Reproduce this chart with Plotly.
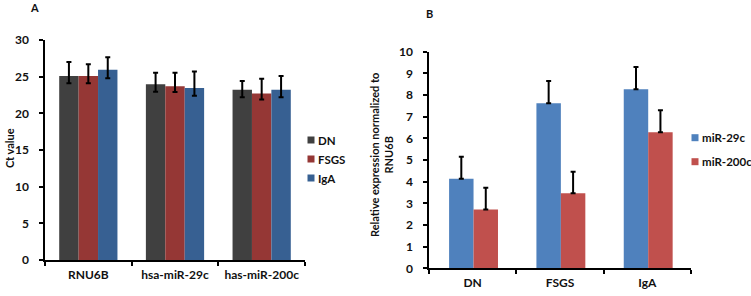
import plotly.graph_objects as go

# ---- Panel A data ----
genes = ["RNU6B", "hsa-miR-29c", "has-miR-200c"]
groups_a = ["DN", "FSGS", "IgA"]
ct_dn = [25.1, 23.95, 23.2]
ct_fsgs = [25.1, 23.7, 22.7]
ct_iga = [25.95, 23.45, 23.2]
ct_dn_up = [1.9, 1.6, 1.2]
ct_dn_down = [1.0, 1.0, 1.0]
ct_fsgs_up = [1.6, 1.85, 2.0]
ct_fsgs_down = [1.0, 0.8, 0.8]
ct_iga_up = [1.7, 2.25, 1.9]
ct_iga_down = [1.15, 1.05, 1.0]

# ---- Panel B data ----
diseases = ["DN", "FSGS", "IgA"]
groups_b = ["miR-29c", "miR-200c"]
rel_29c = [4.13, 7.62, 8.27]
rel_200c = [2.72, 3.46, 6.28]
rel_29c_err = [1.02, 1.03, 1.02]
rel_200c_err = [1.0, 1.0, 1.02]

col_a = ["#404040", "#953735", "#376092"]
col_b = ["#4F81BD", "#C0504D"]

W, H = 751, 296
FONT = "Lato"
FS = 12


def fx(px):
    return px / W


def fy(py):
    return 1 - py / H


fig = go.Figure()

vals_a = [ct_dn, ct_fsgs, ct_iga]
ups_a = [ct_dn_up, ct_fsgs_up, ct_iga_up]
downs_a = [ct_dn_down, ct_fsgs_down, ct_iga_down]
offs_a = [-0.336, -0.112, 0.112]
for i, name in enumerate(groups_a):
    fig.add_trace(go.Bar(
        x=genes, y=vals_a[i], name=name, xaxis="x", yaxis="y",
        marker=dict(color=col_a[i], line=dict(width=0)),
        width=0.224, offset=offs_a[i], showlegend=False,
        error_y=dict(type="data", symmetric=False, array=ups_a[i],
                     arrayminus=downs_a[i], color="black", thickness=2, width=2.5),
    ))

vals_b = [rel_29c, rel_200c]
errs_b = [rel_29c_err, rel_200c_err]
offs_b = [-0.27, 0.01]
for i, name in enumerate(groups_b):
    fig.add_trace(go.Bar(
        x=diseases, y=vals_b[i], name=name, xaxis="x2", yaxis="y2",
        marker=dict(color=col_b[i], line=dict(width=0)),
        width=0.28, offset=offs_b[i], showlegend=False,
        error_y=dict(type="data", symmetric=False, array=errs_b[i],
                     arrayminus=[0] * len(errs_b[i]), color="black", thickness=2, width=2.5),
    ))

tickfont = dict(family=FONT, size=FS, color="#111111", weight="bold")
xcommon = dict(type="category", showgrid=False, showline=True, linecolor="black",
               linewidth=1.5, ticks="outside", ticklen=4, tickwidth=1.5, tickcolor="black",
               tickson="boundaries", tickfont=tickfont, ticklabelstandoff=3, zeroline=False)
ycommon = dict(showgrid=False, showline=True, linecolor="black", linewidth=1.5,
               ticks="outside", ticklen=4, tickwidth=1.5, tickcolor="black",
               tickfont=tickfont, zeroline=False, ticklabelstandoff=8)

fig.update_layout(
    width=W, height=H, autosize=False,
    margin=dict(l=0, r=0, t=0, b=0, autoexpand=False),
    paper_bgcolor="white", plot_bgcolor="white",
    barmode="overlay", showlegend=False,
    xaxis=dict(xcommon, domain=[fx(45), fx(305)], anchor="y"),
    yaxis=dict(ycommon, domain=[fy(260), fy(40)], range=[0, 30], dtick=5, anchor="x"),
    xaxis2=dict(xcommon, domain=[fx(429), fx(691)], anchor="y2"),
    yaxis2=dict(ycommon, domain=[fy(268.3), fy(51.7)], range=[0, 10], dtick=1, anchor="x2"),
    font=dict(family=FONT),
)

ann_font = dict(family=FONT, size=11, color="#111111", weight="bold")


def label(text, px, py, angle=0):
    fig.add_annotation(text=text, x=fx(px), y=fy(py), xref="paper", yref="paper",
                       xanchor="center", yanchor="middle", showarrow=False,
                       textangle=angle, font=ann_font)


label("A", 34, 7)
label("B", 429, 14)
label("Ct value", 9, 148, -90)
label("Relative expression normalized to<br>RNU6B", 381, 155, -90)


def legend_items(names, colors, sx, ys, tx):
    for name, c, yy in zip(names, colors, ys):
        fig.add_shape(type="rect", xref="paper", yref="paper",
                      x0=fx(sx - 3.5), x1=fx(sx + 3.5),
                      y0=fy(yy + 3.5), y1=fy(yy - 3.5),
                      fillcolor=c, line=dict(width=0))
        fig.add_annotation(text=name, x=fx(tx), y=fy(yy), xref="paper", yref="paper",
                           xanchor="left", yanchor="middle", showarrow=False,
                           font=dict(ann_font, size=11.5))


legend_items(groups_a, col_a, 311, [140, 159, 178], 316)
legend_items(groups_b, col_b, 695, [137.7, 161.7], 700)

fig.write_html(
    "out.html",
    config={"displayModeBar": False},
    post_script="document.body.style.margin='0';document.body.style.overflow='hidden';",
)
